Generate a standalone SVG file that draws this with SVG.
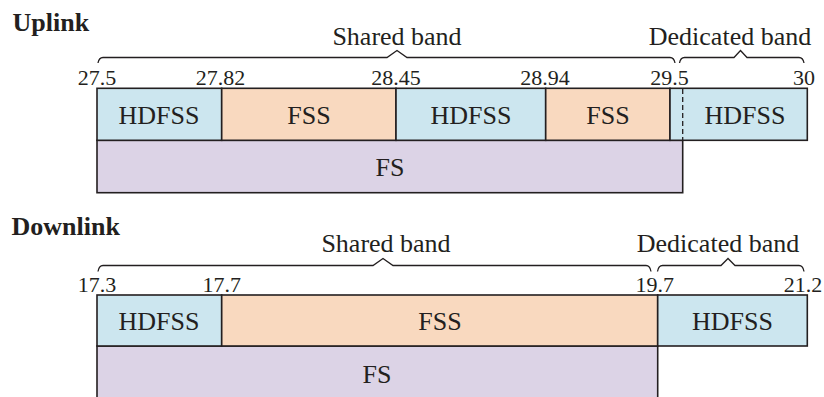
<svg xmlns="http://www.w3.org/2000/svg" width="824" height="397" viewBox="0 0 824 397" font-family="'Liberation Serif', Tinos, 'DejaVu Serif', serif">
<style>
text{font-family:'Liberation Serif', Tinos, 'DejaVu Serif', serif;fill:#231f20}
.t{font-size:26px;text-anchor:middle}
.n{font-size:22px;text-anchor:middle}
.h{font-size:26px;font-weight:bold}
.box{stroke:#231f20;stroke-width:1.6}
.hd{fill:#cce6ef}
.fss{fill:#f9d9bf}
.fs{fill:#dcd3e6}
.br{fill:none;stroke:#231f20;stroke-width:1.3}
</style>
<rect width="824" height="397" fill="#fff"/>
<text class="h" x="12.5" y="30.5">Uplink</text>
<text class="h" x="11.5" y="235">Downlink</text>
<g id="connectors">
<path class="br" d="M98,63 Q99,57.5 103,57.5 L387,57.5 L397,50.5 L407,57.5 L670,57.5 Q674,57.5 675,63"/>
<path class="br" d="M679.5,63 Q680.5,57.5 684.5,57.5 L734,57.5 L740.5,50.5 L747,57.5 L799,57.5 Q803,57.5 804,63"/>
<path class="br" d="M98,271.5 Q99,265.5 103,265.5 L373,265.5 L383,258.5 L393,265.5 L646,265.5 Q650,265.5 651,271.5"/>
<path class="br" d="M657.5,271.5 Q658.5,265.5 662.5,265.5 L721,265.5 L728,258.5 L735,265.5 L799,265.5 Q803,265.5 804,271.5"/>
</g>
<g id="uplink-labels">
<text class="t" x="397" y="45">Shared band</text>
<text class="t" x="730" y="44.5">Dedicated band</text>
<text class="n" x="97" y="85">27.5</text>
<text class="n" x="220.5" y="85">27.82</text>
<text class="n" x="396" y="85">28.45</text>
<text class="n" x="545" y="85">28.94</text>
<text class="n" x="669.5" y="85">29.5</text>
<text class="n" x="804" y="85">30</text>
</g>
<g id="up-fs"><rect class="box fs" x="97" y="140.3" width="585.7" height="52.4"/><text class="t" x="390" y="176">FS</text></g>
<g id="up-hdfss1"><rect class="box hd" x="97" y="88.3" width="124.7" height="52"/><text class="t" x="159" y="123.5">HDFSS</text></g>
<g id="up-fss1"><rect class="box fss" x="221.7" y="88.3" width="174.3" height="52"/><text class="t" x="309" y="123.5">FSS</text></g>
<g id="up-hdfss2"><rect class="box hd" x="396" y="88.3" width="149.7" height="52"/><text class="t" x="471" y="123.5">HDFSS</text></g>
<g id="up-fss2"><rect class="box fss" x="545.7" y="88.3" width="124.3" height="52"/><text class="t" x="608" y="123.5">FSS</text></g>
<g id="up-hdfss3"><rect class="box hd" x="670" y="88.3" width="137.3" height="52"/><line x1="682.7" y1="89" x2="682.7" y2="140" stroke="#231f20" stroke-width="1.3" stroke-dasharray="5,3"/><text class="t" x="745" y="123.5">HDFSS</text></g>
<g id="downlink-labels">
<text class="t" x="386" y="252">Shared band</text>
<text class="t" x="718" y="252">Dedicated band</text>
<text class="n" x="97" y="292">17.3</text>
<text class="n" x="221.7" y="292">17.7</text>
<text class="n" x="654.7" y="292">19.7</text>
<text class="n" x="803" y="292">21.2</text>
</g>
<g id="dn-fs"><rect class="box fs" x="97" y="346" width="560.7" height="60"/><text class="t" x="377" y="383">FS</text></g>
<g id="dn-hdfss1"><rect class="box hd" x="97" y="295" width="124.7" height="51"/><text class="t" x="159" y="330">HDFSS</text></g>
<g id="dn-fss"><rect class="box fss" x="221.7" y="295" width="436" height="51"/><text class="t" x="440" y="330">FSS</text></g>
<g id="dn-hdfss2"><rect class="box hd" x="657.7" y="295" width="149.6" height="51"/><text class="t" x="732.5" y="330">HDFSS</text></g>
</svg>
